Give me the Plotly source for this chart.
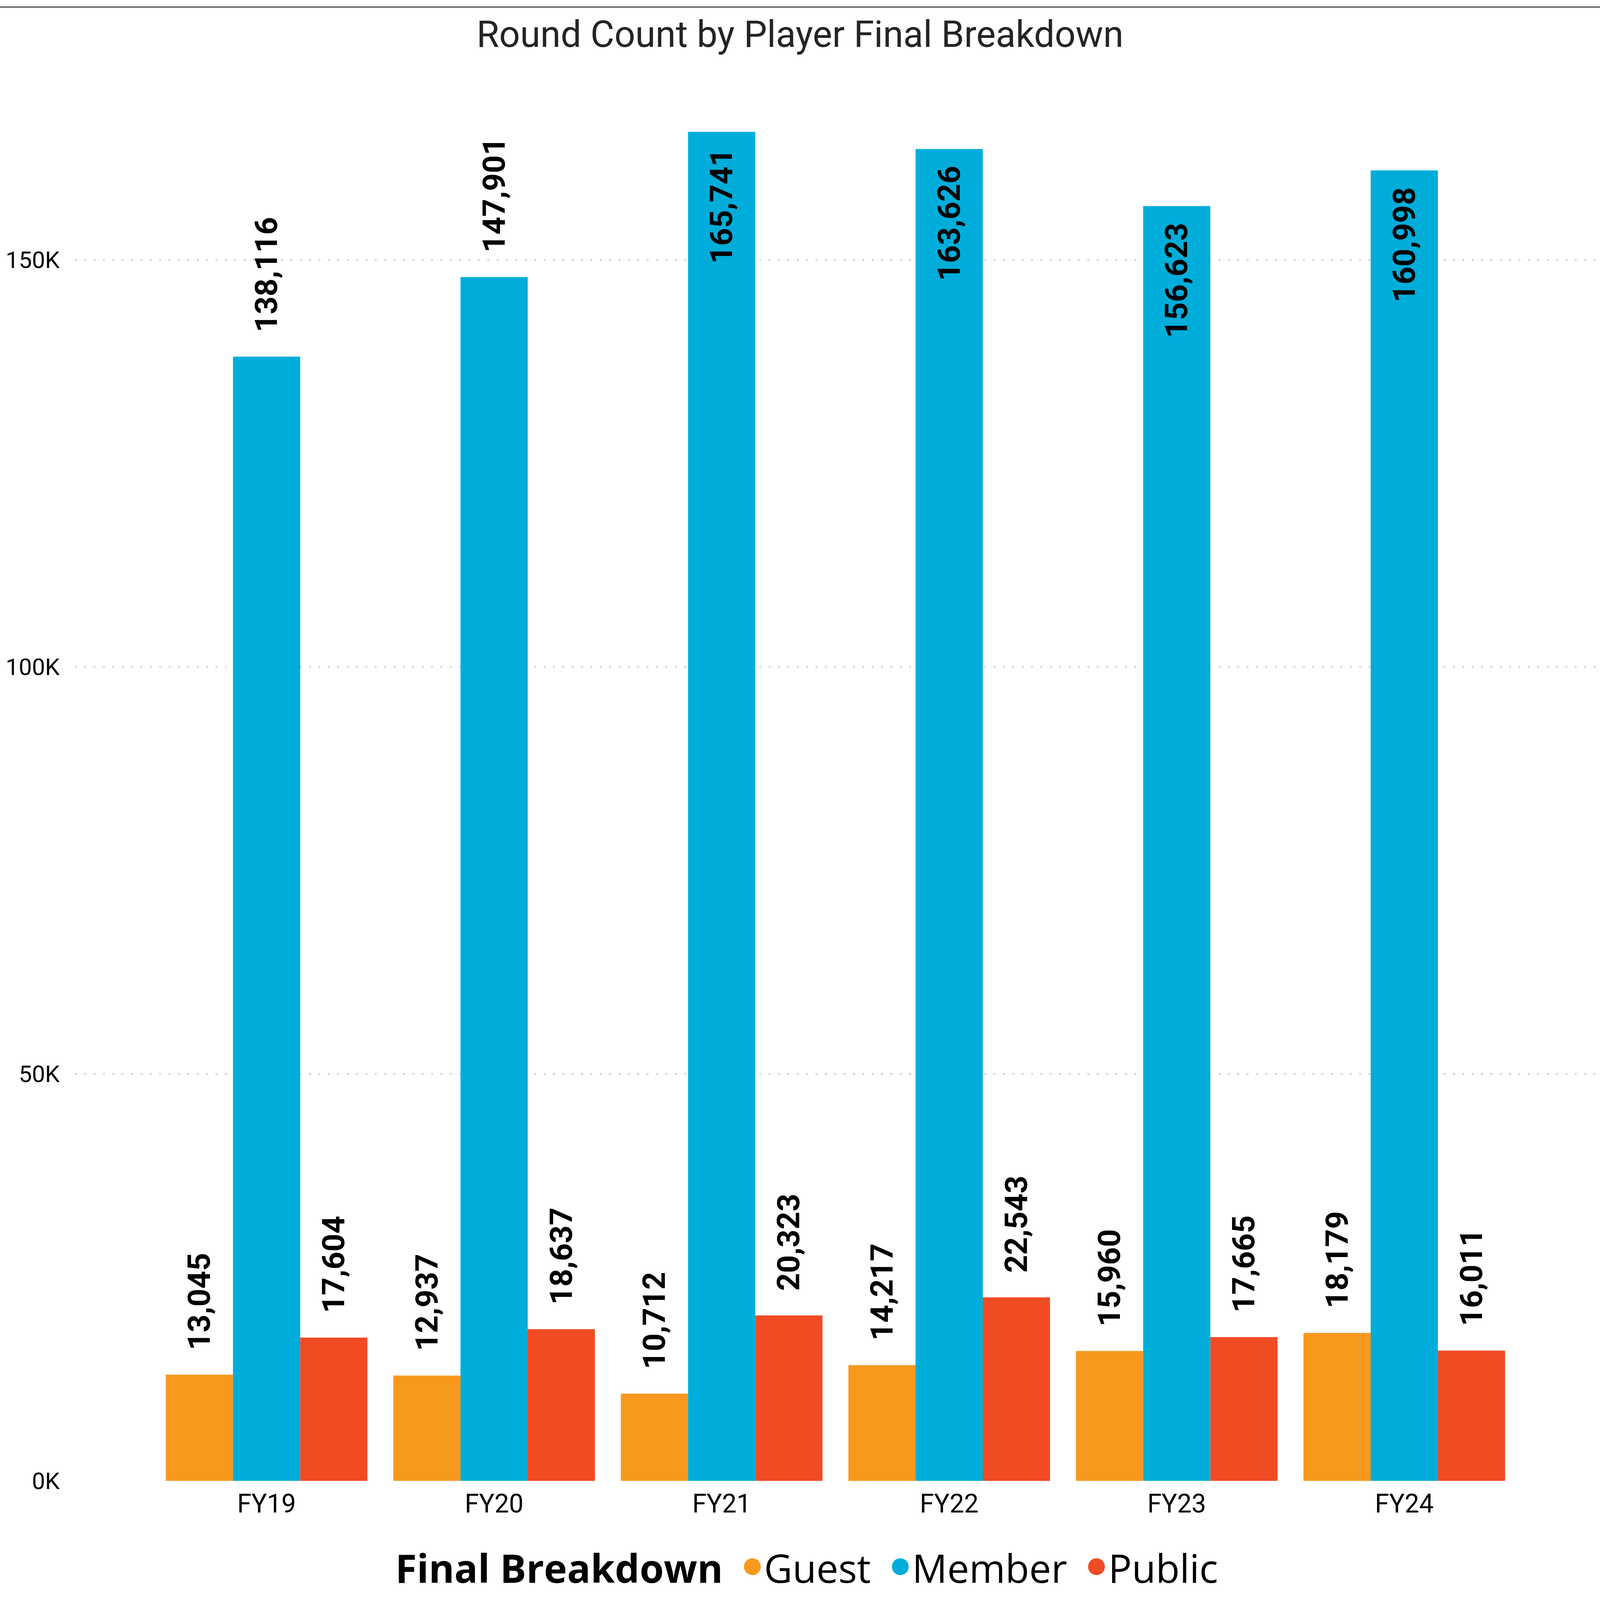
import plotly.graph_objects as go

# ---- data ----
categories = ["FY19", "FY20", "FY21", "FY22", "FY23", "FY24"]
series_names = ["Guest", "Member", "Public"]
guest = [13045, 12937, 10712, 14217, 15960, 18179]
member = [138116, 147901, 165741, 163626, 156623, 160998]
public = [17604, 18637, 20323, 22543, 17665, 16011]
member_label_pos = ["outside", "outside", "inside", "inside", "inside", "inside"]
y_tickvals = [0, 50000, 100000, 150000]
y_ticktext = ["0K", "50K", "100K", "150K"]
legend_title = "Final Breakdown"

colors = {"Guest": "#F8981D", "Member": "#00ADDA", "Public": "#F04B23"}

# ---- layout constants ----
H = 4151
ML, MR, MT, MB = 192, 10, 230, 305
Y_MAX = 170900
LABEL_FONT = dict(family="DIN, Roboto, sans-serif", size=80, color="#000000", weight="bold")
NB = "\u00a0"


def labels(vals, positions):
    out = []
    for v, p in zip(vals, positions):
        s = f"{v:,}"
        out.append(NB * 3 + s if p == "outside" else s + NB * 2)
    return out


fig = go.Figure()
for name, vals, pos in [
    ("Guest", guest, ["outside"] * 6),
    ("Member", member, member_label_pos),
    ("Public", public, ["outside"] * 6),
]:
    fig.add_trace(go.Bar(
        x=categories, y=vals, name=name,
        marker=dict(color=colors[name], line=dict(width=0)),
        text=labels(vals, pos), textposition=pos, textangle=-90,
        insidetextanchor="end", constraintext="none",
        textfont=LABEL_FONT, insidetextfont=LABEL_FONT, outsidetextfont=LABEL_FONT,
        showlegend=False, cliponaxis=False, hoverinfo="x+y",
    ))

# legend: bold title entry followed by circular swatch entries
fig.add_trace(go.Scatter(
    x=[None], y=[None], mode="markers", name=f"<b>{legend_title}</b>",
    marker=dict(color="rgba(0,0,0,0)", size=2), showlegend=True, hoverinfo="skip",
))
for name in series_names:
    fig.add_trace(go.Scatter(
        x=[None], y=[None], mode="markers",
        name=(f'<span style="color:{colors[name]};baseline-shift:0.13em">\u25CF</span>'
              f'{name}'),
        marker=dict(color="rgba(0,0,0,0)", size=2),
        showlegend=True, hoverinfo="skip",
    ))

# top border line (pixels above the plot area, spanning the whole page)
fig.add_shape(
    type="line", xref="paper", yref="paper",
    x0=-1, x1=2, ysizemode="pixel", yanchor=1, y0=MT - 18, y1=MT - 18,
    line=dict(color="#6E6E6E", width=4),
)

fig.update_layout(
    autosize=True,
    margin=dict(l=ML, r=MR, t=MT, b=MB, pad=0),
    paper_bgcolor="white", plot_bgcolor="white",
    barmode="group", bargap=0.114, bargroupgap=0,
    title=dict(
        text="Round Count by Player Final Breakdown",
        x=0.5, xanchor="center", xref="container",
        y=1 - 88 / H, yanchor="middle", yref="container",
        font=dict(family="DIN, Roboto, sans-serif", size=94, color="#252423"),
    ),
    xaxis=dict(
        type="category", range=[-0.842, 5.843],
        showgrid=False, zeroline=False, showline=False, ticks="",
        tickfont=dict(family="Segoe UI, Roboto, sans-serif", size=66, color="#000000"),
        ticklabelstandoff=14,
    ),
    yaxis=dict(
        range=[0, Y_MAX], tickvals=y_tickvals, ticktext=y_ticktext,
        showgrid=True, gridcolor="#C8C8C8", gridwidth=4, griddash="4px,20px",
        zeroline=False, showline=False, ticks="",
        tickfont=dict(family="Segoe UI, Roboto, sans-serif", size=60, color="#000000"),
        ticklabelstandoff=38,
    ),
    legend=dict(
        orientation="h", xref="container", yref="container",
        x=0.5, xanchor="center", y=84 / H, yanchor="middle",
        font=dict(family="Segoe UI, Open Sans, sans-serif", size=100, color="#000000"),
        itemwidth=30, bgcolor="rgba(0,0,0,0)", itemclick=False, itemdoubleclick=False,
    ),
    hovermode="closest",
)

post = ("var gd=document.getElementById('{plot_id}');"
        "document.body.style.margin='0';document.body.style.overflow='hidden';"
        "Plotly.Plots.resize(gd);")
fig.write_html("out.html", default_width="100vw", default_height="100vh",
               post_script=post, config={"responsive": True, "displayModeBar": False})
